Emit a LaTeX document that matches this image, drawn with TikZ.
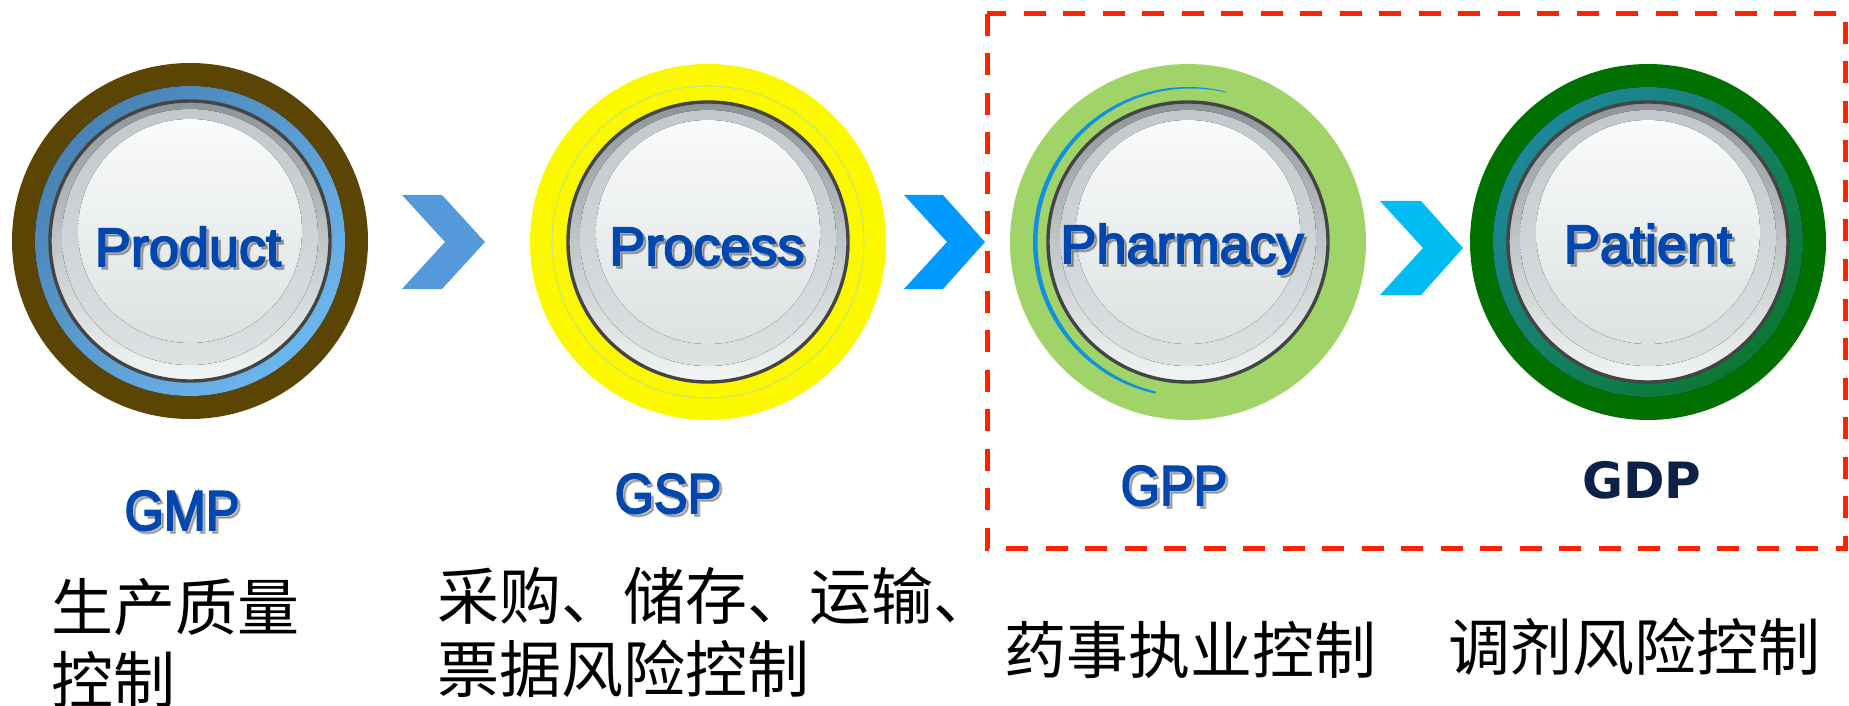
\documentclass[tikz,border=0pt]{standalone}
\usepackage{fontspec}
\setmainfont{Liberation Sans}
\newfontfamily\wordfont{Liberation Sans}[FakeBold=3.5]
\newfontfamily\cjk{Noto Sans CJK SC}
\newfontfamily\gdpfont{DejaVu Sans}
\definecolor{brownring}{HTML}{5A4504}
\definecolor{bluering1}{HTML}{4A82B4}
\definecolor{bluering2}{HTML}{6CB6EE}
\definecolor{yellowring}{HTML}{FCF800}
\definecolor{lgreen}{HTML}{A0D468}
\definecolor{dgreen}{HTML}{007100}
\definecolor{teal1}{HTML}{1D8799}
\definecolor{teal2}{HTML}{0A7830}
\definecolor{chevA}{HTML}{5499DA}
\definecolor{chevB}{HTML}{0099FF}
\definecolor{chevC}{HTML}{00BCF2}
\definecolor{reddash}{HTML}{FF2200}
\definecolor{txtblue}{HTML}{0048B0}
\definecolor{gdpblue}{HTML}{0C2048}
\definecolor{rimtop}{HTML}{8E9598}
\definecolor{rimbot}{HTML}{F2F5F5}
\definecolor{facetop}{HTML}{C2C8CB}
\definecolor{facebot}{HTML}{DCE1E2}
\definecolor{hltop}{HTML}{FAFBFB}
\definecolor{btnborder}{HTML}{444444}
\definecolor{arcblue}{HTML}{1090E0}
\definecolor{faintring}{HTML}{A8DCC0}
\tikzset{
  button/.pic={
    \fill[top color=rimtop, bottom color=rimbot] (0,0) circle (139);
    \fill[top color=facetop, bottom color=facebot] (0,-4) circle (128);
    \fill[top color=hltop, bottom color=facebot] (0,-10) circle (112);
    \draw[line width=1.7pt, draw=btnborder] (0,0) circle (140);
  },
  word/.style={font=\wordfont\fontsize{27}{30}\selectfont, text=txtblue, anchor=base, inner sep=0pt},
  wordshadow/.style={word, text=black, opacity=0.25},
  std/.style={font=\wordfont\fontsize{28}{30}\selectfont, text=txtblue, anchor=base, inner sep=0pt},
  stdshadow/.style={std, text=black, opacity=0.25},
  cjktext/.style={font=\cjk\fontsize{31}{36}\selectfont, text=black, anchor=base west, inner sep=0pt},
}
\begin{document}
\begin{tikzpicture}[x=0.5pt,y=-0.5pt]
\useasboundingbox (0,0) rectangle (1849,706);
% circle 1 Product
\fill[brownring] (190,241) circle (178);
\fill[top color=bluering1, bottom color=bluering2, shading angle=45] (190,241) circle (155);
\pic at (190,241) {button};
% circle 2 Process
\fill[yellowring] (708,242) circle (178);
\draw[faintring, line width=0.3pt] (708,242) circle (156);
\pic at (708,242) {button};
% circle 3 Pharmacy
\fill[lgreen] (1188,242) circle (178);
\begin{scope}
  \clip (1188,242) -- (1250,0) -- (900,0) -- (900,500) -- (1146,438) -- cycle;
  \fill[arcblue, even odd rule] (1188,242) circle (155) (1191,242) circle (153.5);
\end{scope}
\pic at (1188,242) {button};
% circle 4 Patient
\fill[dgreen] (1648,242) circle (178);
\fill[top color=teal1, bottom color=teal2, shading angle=45] (1648,242) circle (155);
\pic at (1648,242) {button};
% chevrons
\fill[chevA] (402,195) -- (442,195) -- (485,242) -- (442,289) -- (402,289) -- (445,242) -- cycle;
\fill[chevB] (904,195) -- (943,195) -- (985,242) -- (943,289) -- (904,289) -- (947,242) -- cycle;
\fill[chevC] (1380,201) -- (1421,201) -- (1463,248) -- (1421,295) -- (1380,295) -- (1423,248) -- cycle;
% red dashed box
\draw[reddash, line width=2.5pt, dash pattern=on 11pt off 8.75pt] (987,14) rectangle (1845,548);
% circle words
\node[wordshadow] (s1) at (191,269) {Product};
\node[word] (w1) at (188,266) {Product};
\node[wordshadow] (s2) at (710,268) {Process};
\node[word] (w2) at (707,265) {Process};
\node[wordshadow] (s3) at (1185,266) {Pharmacy};
\node[word] (w3) at (1182,263) {Pharmacy};
\node[wordshadow] (s4) at (1651,266) {Patient};
\node[word] (w4) at (1648,263) {Patient};
% standards
\node[stdshadow] (g1s) at (185,533) {\scalebox{0.9}[1]{GMP}};
\node[std] (g1) at (182,530) {\scalebox{0.9}[1]{GMP}};
\node[stdshadow] (g2s) at (671,516) {\scalebox{0.9}[1]{GSP}};
\node[std] (g2) at (668,513) {\scalebox{0.9}[1]{GSP}};
\node[stdshadow] (g3s) at (1177,508) {\scalebox{0.9}[1]{GPP}};
\node[std] (g3) at (1174,505) {\scalebox{0.9}[1]{GPP}};
\node[anchor=base, inner sep=0pt, text=gdpblue, font=\gdpfont\bfseries\fontsize{25}{28}\selectfont] (g4) at (1642,498) {GDP};
% chinese labels
\node[cjktext] (c1a) at (51,630) {生产质量};
\node[cjktext] (c1b) at (51,703) {控制};
\node[cjktext] (c2a) at (437,619) {采购、储存、运输、};
\node[cjktext] (c2b) at (437,692) {票据风险控制};
\node[cjktext] (c3) at (1004,673) {药事执业控制};
\node[cjktext] (c4) at (1448,670) {调剂风险控制};
\end{tikzpicture}
\end{document}
